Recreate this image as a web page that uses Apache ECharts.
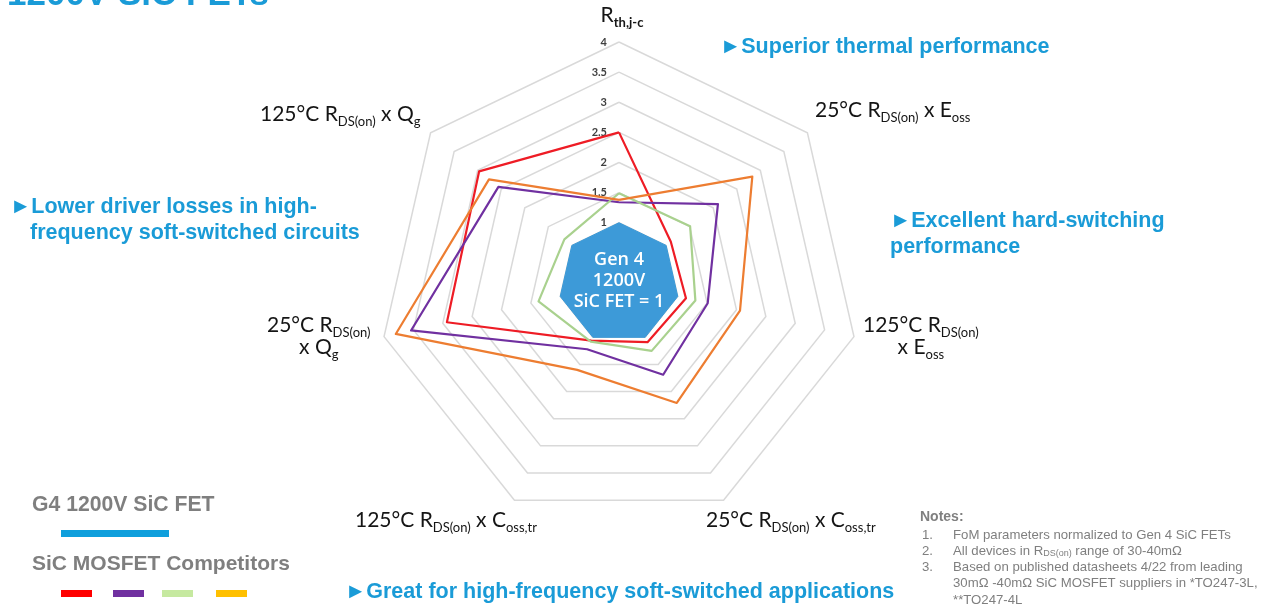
<!DOCTYPE html>
<html>
<head>
<meta charset="utf-8">
<style>
  html, body { margin: 0; padding: 0; background: #ffffff; }
  #chart { width: 1281px; height: 607px; }
</style>
<script src="https://cdn.jsdelivr.net/npm/echarts@6/dist/echarts.min.js"></script>
</head>
<body>
<div id="chart"></div>
<script>
// Figure-of-merit axes, listed from the top going counter-clockwise
const categories = [
  'Rth,j-c',
  '125°C RDS(on) x Qg',
  '25°C RDS(on) x Qg',
  '125°C RDS(on) x Coss,tr',
  '25°C RDS(on) x Coss,tr',
  '125°C RDS(on) x Eoss',
  '25°C RDS(on) x Eoss'
];

// Normalized values (Gen 4 1200V SiC FET = 1)
const gen4Values      = [1, 1, 1, 1, 1, 1, 1];
const redValues       = [2.5, 2.97, 2.93, 1.06, 1.09, 1.14, 1.1];
const purpleValues    = [1.34, 2.56, 3.54, 1.22, 1.69, 1.51, 2.1];
const greenValues     = [1.49, 1.16, 1.37, 1.08, 1.25, 1.3, 1.51];
const orangeValues    = [1.38, 2.76, 3.8, 1.6, 2.21, 2.06, 2.83];

const axisMin = 0;
const axisMax = 4;
const axisStep = 0.5;
const tickLabels = ['1', '1.5', '2', '2.5', '3', '3.5', '4'];

const BLUE_TEXT = '#1a9bd7';
const LABEL_FONT = 'Lato, "Open Sans", sans-serif';
const NOTE_GRAY = '#7f7f7f';

const chart = echarts.init(document.getElementById('chart'), null, { renderer: 'canvas' });

// rich styles for the axis-name labels (main text + subscripts)
const nameRich = {
  m:  { fontSize: 21, fontFamily: LABEL_FONT, fill: '#151515', lineHeight: 22, verticalAlign: 'top' },
  s:  { fontSize: 13, fontFamily: LABEL_FONT, fill: '#151515', lineHeight: 14, padding: [11, 0, 0, 0], verticalAlign: 'top' },
  mc: { fontSize: 21, fontFamily: LABEL_FONT, fill: '#151515', lineHeight: 22, verticalAlign: 'top', align: 'center' },
  sc: { fontSize: 13, fontFamily: LABEL_FONT, fill: '#151515', lineHeight: 14, padding: [11, 0, 0, 0], verticalAlign: 'top', align: 'center' },
  sb: { fontSize: 13, fontWeight: 'bold', fontFamily: LABEL_FONT, fill: '#151515', lineHeight: 14, padding: [11, 0, 0, 0], verticalAlign: 'top' }
};

function nameText(x, y, text, align) {
  return {
    type: 'text', x: x, y: y, z: 10,
    style: { text: text, rich: nameRich, align: align || 'left', verticalAlign: 'top' }
  };
}

function blueText(x, y, text) {
  return {
    type: 'text', x: x, y: y, z: 10,
    style: {
      text: text, fill: BLUE_TEXT, align: 'left', verticalAlign: 'middle',
      font: 'bold 21.5px "Liberation Sans", Arial, sans-serif'
    }
  };
}

function noteText(x, y, text, bold) {
  return {
    type: 'text', x: x, y: y, z: 10,
    style: {
      text: text, fill: NOTE_GRAY, align: 'left', verticalAlign: 'middle',
      font: (bold ? 'bold 14px ' : '13.2px ') + '"Liberation Sans", Arial, sans-serif',
      rich: {
        sub: { fontSize: 9, fill: NOTE_GRAY, fontFamily: '"Liberation Sans", Arial, sans-serif', padding: [6, 0, 0, 0] }
      }
    }
  };
}

function swatch(x, y, w, h, color) {
  return { type: 'rect', shape: { x: x, y: y, width: w, height: h }, style: { fill: color }, z: 10 };
}

function competitor(values, color) {
  return {
    value: values,
    symbol: 'none',
    lineStyle: { color: color, width: 2.2 },
    itemStyle: { color: color },
    areaStyle: { opacity: 0 }
  };
}

const option = {
  backgroundColor: '#ffffff',
  animation: false,
  radar: {
    center: [619, 283],
    radius: 241,
    startAngle: 90,
    shape: 'polygon',
    splitNumber: (axisMax - axisMin) / axisStep,
    indicator: categories.map(function (n) { return { name: n, min: axisMin, max: axisMax }; }),
    axisName: { show: false },
    axisLine: { show: false },
    axisTick: { show: false },
    axisLabel: { show: false },
    splitLine: { lineStyle: { color: '#d9d9d9', width: 1.5 } },
    splitArea: { show: false }
  },
  // value scale drawn along the top axis of the radar
  grid: { left: 612, top: 42, width: 10, height: 241 },
  xAxis: { type: 'value', show: false },
  yAxis: {
    type: 'value',
    min: axisMin,
    max: axisMax,
    interval: axisStep,
    axisLine: { show: false },
    axisTick: { show: false },
    splitLine: { show: false },
    axisLabel: {
      margin: 5,
      fontSize: 11,
      fontWeight: 'bold',
      fontFamily: LABEL_FONT,
      color: '#404040',
      formatter: function (v) {
        const s = String(v);
        return tickLabels.indexOf(s) >= 0 ? s : '';
      }
    }
  },
  series: [
    {
      type: 'radar',
      z: 3,
      data: [
        competitor(redValues, '#ee1c25'),
        competitor(purpleValues, '#7030a0'),
        competitor(greenValues, '#a9d18e'),
        competitor(orangeValues, '#ed7d31')
      ]
    },
    {
      type: 'radar',
      z: 4,
      data: [{
        value: gen4Values,
        symbol: 'none',
        lineStyle: { color: '#3597d6', width: 1 },
        itemStyle: { color: '#3597d6' },
        areaStyle: { color: '#3d9ad8', opacity: 1 }
      }]
    }
  ],
  graphic: [
    // page heading
    {
      type: 'text', x: 7, y: 13, z: 10,
      style: { text: '1200V SiC FETs', fill: BLUE_TEXT, align: 'left', verticalAlign: 'bottom',
               font: 'bold 35px "Liberation Sans", Arial, sans-serif' }
    },

    // axis names
    nameText(622, 5, '{m|R}{sb|th,j-c}', 'center'),
    nameText(815, 100, '{m|25°C R}{s|DS(on)}{m| x E}{s|oss}'),
    nameText(863, 315, '{m|125°C R}{s|DS(on)}\n{mc|x E}{sc|oss}'),
    nameText(706, 510, '{m|25°C R}{s|DS(on)}{m| x C}{s|oss,tr}'),
    nameText(355, 510, '{m|125°C R}{s|DS(on)}{m| x C}{s|oss,tr}'),
    nameText(267, 315, '{m|25°C R}{s|DS(on)}\n{mc|x Q}{sc|g}'),
    nameText(260, 104, '{m|125°C R}{s|DS(on)}{m| x Q}{s|g}'),

    // label inside the Gen 4 polygon
    {
      type: 'text', x: 619, y: 281, z: 20,
      style: { text: 'Gen 4\n1200V\nSiC FET = 1', fill: '#ffffff', align: 'center', verticalAlign: 'middle',
               lineHeight: 21, font: '600 18px "Open Sans", sans-serif' }
    },

    // highlights
    blueText(720, 47, '\u25BASuperior thermal performance'),
    blueText(10, 207, '\u25BALower driver losses in high-'),
    blueText(30, 233, 'frequency soft-switched circuits'),
    blueText(890, 221, '\u25BAExcellent hard-switching'),
    blueText(890, 247, 'performance'),
    blueText(345, 592, '\u25BAGreat for high-frequency soft-switched applications'),

    // legend
    {
      type: 'text', x: 32, y: 505, z: 10,
      style: { text: 'G4 1200V SiC FET', fill: '#7f7f7f', align: 'left', verticalAlign: 'middle',
               font: 'bold 21.2px "Liberation Sans", Arial, sans-serif' }
    },
    swatch(61, 530, 108, 7, '#0f9fdc'),
    {
      type: 'text', x: 32, y: 564, z: 10,
      style: { text: 'SiC MOSFET Competitors', fill: '#7f7f7f', align: 'left', verticalAlign: 'middle',
               font: 'bold 21px "Liberation Sans", Arial, sans-serif' }
    },
    swatch(61, 590, 31, 7, '#ff0000'),
    swatch(113, 590, 31, 7, '#7030a0'),
    swatch(162, 590, 31, 7, '#c6e9a0'),
    swatch(216, 590, 31, 7, '#ffc000'),

    // notes
    noteText(920, 517, 'Notes:', true),
    noteText(922, 535, '1.'),
    noteText(953, 535, 'FoM parameters normalized to Gen 4 SiC FETs'),
    noteText(922, 551, '2.'),
    noteText(953, 551, 'All devices in R{sub|DS(on)} range of 30-40m\u03A9'),
    noteText(922, 567, '3.'),
    noteText(953, 567, 'Based on published datasheets 4/22 from leading'),
    noteText(953, 583, '30m\u03A9 -40m\u03A9 SiC MOSFET suppliers in *TO247-3L,'),
    noteText(953, 600, '**TO247-4L')
  ]
};

chart.setOption(option);
</script>
</body>
</html>
